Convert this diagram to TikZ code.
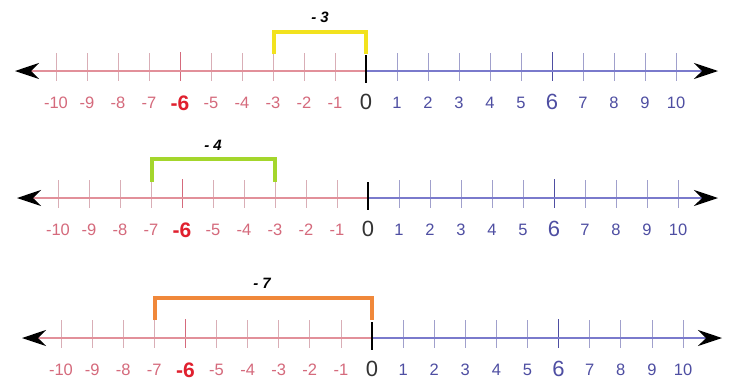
\documentclass[tikz,border=0pt]{standalone}
\usepackage{fontspec}
\setmainfont{Liberation Sans}
\usetikzlibrary{arrows.meta}
\definecolor{negred}{HTML}{D56A7C}
\definecolor{sixred}{HTML}{E0202E}
\definecolor{negtick}{HTML}{D9AEB6}
\definecolor{posblue}{HTML}{4E4EA2}
\definecolor{postick}{HTML}{A0A0CC}
\definecolor{axred}{HTML}{E2909A}
\definecolor{axblue}{HTML}{7A7ACC}
\definecolor{zerogray}{HTML}{333333}
\definecolor{bryellow}{HTML}{F2E21E}
\definecolor{brgreen}{HTML}{A4D62C}
\definecolor{brorange}{HTML}{F0883A}
\tikzset{
  axisline/.style={line width=1.4pt},
  tipL/.style={arrows={{Stealth[length=24pt,width=16pt,inset=8pt,color=black]}-}},
  tipR/.style={arrows={-{Stealth[length=24pt,width=16pt,inset=8pt,color=black]}}},
  smalltick/.style={line width=0.8pt},
  zerotick/.style={line width=1.4pt,draw=black},
  numlab/.style={inner sep=0pt,font=\fontsize{16.5}{18}\selectfont},
  neglab/.style={numlab,text=negred},
  poslab/.style={numlab,text=posblue},
  sixneg/.style={inner sep=0pt,text=sixred,font=\fontsize{21}{23}\selectfont\bfseries},
  sixpos/.style={inner sep=0pt,text=posblue,font=\fontsize{22}{24}\selectfont},
  zerolab/.style={inner sep=0pt,text=zerogray,font=\fontsize{22}{24}\selectfont},
  bracket/.style={line width=3.4pt,line join=miter},
  brlab/.style={inner sep=0pt,font=\fontsize{15}{17}\selectfont\bfseries\itshape}
}
% #1 prefix, #2 axis y, #3 zero x, #4 spacing, #5 left tip x, #6 right tip x
\newcommand\drawnumline[6]{%
  \coordinate (#1z) at (#3,#2);
  \coordinate (#1L) at (#5,#2);
  \coordinate (#1R) at (#6,#2);
  \foreach \i in {-10,-9,-8,-7,-5,-4,-3,-2,-1}{
    \draw[smalltick,negtick] (#3+\i*#4,#2-18) -- (#3+\i*#4,#2+10);
    \node[neglab] (#1n\i) at (#3+\i*#4,#2+32) {\i};
  }
  \foreach \i in {1,2,3,4,5,7,8,9,10}{
    \draw[smalltick,postick] (#3+\i*#4,#2-18) -- (#3+\i*#4,#2+10);
    \node[poslab] (#1n\i) at (#3+\i*#4,#2+32) {\i};
  }
  \draw[smalltick,negred] (#3-6*#4,#2-19) -- (#3-6*#4,#2+10);
  \draw[smalltick,posblue] (#3+6*#4,#2-19) -- (#3+6*#4,#2+10);
  \draw[axisline,axred,tipL] (#1L) -- (#1z);
  \draw[axisline,axblue,tipR] (#1z) -- (#1R);
  \node[sixneg] (#1nm6) at (#3-6*#4,#2+32) {-6};
  \node[sixpos] (#1np6) at (#3+6*#4,#2+31) {6};
  \draw[zerotick] (#3,#2-16) -- (#3,#2+12);
  \node[zerolab] (#1n0) at (#3,#2+31) {0};
}
\begin{document}
\begin{tikzpicture}[x=1pt,y=-1pt]
\useasboundingbox (0,0) rectangle (730,381);
\fill[white] (0,0) rectangle (730,381);

% line 1
\drawnumline{a}{71}{366}{31}{15}{718}
\coordinate (b1a) at (274,54);
\coordinate (b1b) at (366,54);
\draw[bracket,bryellow] (b1a) -- (274,32) -- (366,32) -- (b1b);
\node[brlab] (t1) at (320,17) {- 3};

% line 2
\drawnumline{b}{198}{368}{31}{17}{718}
\coordinate (b2a) at (152,182);
\coordinate (b2b) at (275,182);
\draw[bracket,brgreen] (b2a) -- (152,159) -- (275,159) -- (b2b);
\node[brlab] (t2) at (213,145) {- 4};

% line 3
\drawnumline{c}{338}{372}{31.1}{22}{722}
\coordinate (b3a) at (155,320);
\coordinate (b3b) at (372,320);
\draw[bracket,brorange] (b3a) -- (155,298) -- (372,298) -- (b3b);
\node[brlab] (t3) at (262,283) {- 7};
\end{tikzpicture}
\end{document}
